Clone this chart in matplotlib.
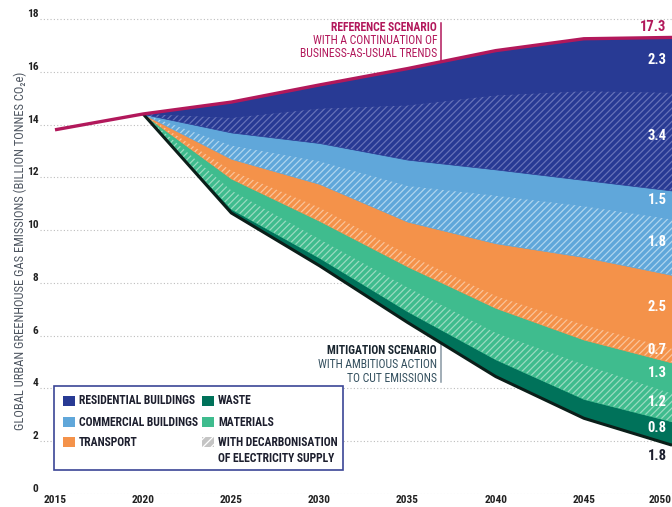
import matplotlib
matplotlib.use('Agg')
import matplotlib.pyplot as plt
from matplotlib import font_manager
from matplotlib.patches import Rectangle
import numpy as np

# the original uses a condensed face; take the narrowest one that is installed
fonts = font_manager.fontManager.ttflist
names = {f.name for f in fonts}
dv_cond = any('DejaVuSansCondensed' in f.fname for f in fonts)
if 'Roboto Condensed' in names:
    FONT, STRETCH, K = 'Roboto Condensed', 'normal', 1.0
elif 'Liberation Sans Narrow' in names:
    FONT, STRETCH, K = 'Liberation Sans Narrow', 'normal', 1.0
elif dv_cond:
    FONT, STRETCH, K = 'DejaVu Sans', 'condensed', 0.9
else:
    FONT, STRETCH, K = 'DejaVu Sans', 'normal', 0.82
plt.rcParams['font.family'] = [FONT, 'DejaVu Sans']
plt.rcParams['font.stretch'] = STRETCH
plt.rcParams['hatch.linewidth'] = 0.9

# ---- data (billion tonnes CO2e) ----
ref_years = [2015, 2020, 2025, 2030, 2035, 2040, 2045, 2050]
ref_total = [13.8, 14.4, 14.85, 15.5, 16.12, 16.8, 17.25, 17.3]

years = [2020, 2025, 2030, 2035, 2040, 2045, 2050]
mitigation = [14.4, 10.65, 8.65, 6.5, 4.45, 2.87, 1.85]

# abatement per sector, stacked from the mitigation line upwards
waste         = [0, 0.15, 0.30, 0.42, 0.65, 0.73, 0.90]
materials_e   = [0, 0.70, 0.70, 0.90, 1.00, 1.30, 1.05]
materials     = [0, 0.45, 0.70, 0.80, 0.95, 0.95, 1.18]
transport_e   = [0, 0.30, 0.50, 0.45, 0.45, 0.55, 0.52]
transport     = [0, 0.45, 0.90, 1.25, 2.00, 2.58, 2.80]
commercial_e  = [0, 0.50, 0.85, 1.35, 1.80, 1.92, 2.10]
commercial    = [0, 0.50, 0.70, 1.00, 1.00, 1.00, 1.10]
residential_e = [0, 0.55, 1.30, 2.05, 2.80, 3.36, 3.70]
residential   = [0, 0.60, 0.90, 1.40, 1.70, 1.99, 2.10]

end_labels = ['0.8', '1.2', '1.3', '0.7', '2.5', '1.8', '1.5', '3.4', '2.3']
total_label = '17.3'
mitigation_label = '1.8'

xtick_years = [2015, 2020, 2025, 2030, 2035, 2040, 2045, 2050]
ytick_vals = list(range(0, 19, 2))

# colours: (values, base, stripe or None)
layers = [
    (waste, '#00725A', None),
    (materials_e, '#3FBC8E', '#9ADBC1'),
    (materials, '#3FBC8E', None),
    (transport_e, '#F4924A', '#FAC49A'),
    (transport, '#F4924A', None),
    (commercial_e, '#60A7DA', '#AFD5EF'),
    (commercial, '#60A7DA', None),
    (residential_e, '#283A94', '#6672B8'),
    (residential, '#283A94', None),
]

CRIMSON = '#B2185B'
DARK = '#1d1f2e'
fs_note = 8.4 * K

fig = plt.figure(figsize=(6.72, 5.07), dpi=100)
ax = fig.add_axes([40 / 672, 13 / 507, 632 / 672, 485.6 / 507])
ax.set_xlim(2014.15, 2050)
ax.set_ylim(0, 18.4)

yrs = np.array(years, dtype=float)
base = np.array(mitigation, dtype=float)
centers = []
for vals, col, stripe in layers:
    top = base + np.array(vals)
    ax.fill_between(yrs, base, top, facecolor=col, edgecolor=col, lw=0.5, zorder=2)
    if stripe:
        ax.fill_between(yrs, base, top, facecolor='none', edgecolor=stripe,
                        hatch='/////', lw=0, zorder=2.1)
    centers.append((base[-1] + top[-1]) / 2)
    base = top

ax.plot(years, mitigation, color='#0B1E19', lw=2.2, zorder=4, solid_capstyle='butt')
ax.plot(ref_years, ref_total, color=CRIMSON, lw=2.4, zorder=5, solid_capstyle='butt')

# value labels at the right edge
for c, t in zip(centers, end_labels):
    ax.text(2049.7, c + 0.2, t, color='white', fontsize=10.5 * K, fontweight='bold',
            ha='right', va='center', zorder=6)
ax.text(2049.7, ref_total[-1] + 0.4, total_label, color=CRIMSON, fontsize=10.5 * K,
        fontweight='bold', ha='right', va='center', zorder=6)
ax.text(2049.7, mitigation[-1] - 0.42, mitigation_label, color=DARK, fontsize=10.5 * K,
        fontweight='bold', ha='right', va='center', zorder=6)

# scenario notes
xn = 2036.67
xl = 2036.9
ref_at = np.interp(xl, ref_years, ref_total)
ax.plot([xl, xl], [ref_at, 17.85], color=CRIMSON, lw=1.1, zorder=5)
ax.text(xn, 17.66, 'REFERENCE SCENARIO', color=CRIMSON, fontsize=fs_note,
        fontweight='bold', ha='right', va='center')
ax.text(xn, 17.17, 'WITH A CONTINUATION OF', color=CRIMSON, fontsize=fs_note,
        ha='right', va='center')
ax.text(xn, 16.68, 'BUSINESS-AS-USUAL TRENDS', color=CRIMSON, fontsize=fs_note,
        ha='right', va='center')

mit_at = np.interp(xl, years, mitigation)
ax.plot([xl, xl], [4.25, mit_at], color='#8797a3', lw=1.1, zorder=3)
ax.text(xn, 5.43, 'MITIGATION SCENARIO', color='#1a2630', fontsize=fs_note,
        fontweight='bold', ha='right', va='center')
ax.text(xn, 4.90, 'WITH AMBITIOUS ACTION', color='#34505f', fontsize=fs_note,
        ha='right', va='center')
ax.text(xn, 4.38, 'TO CUT EMISSIONS', color='#34505f', fontsize=fs_note,
        ha='right', va='center')

# axes styling
for s in ax.spines.values():
    s.set_visible(False)
ax.set_xticks(xtick_years)
ax.set_xticklabels([str(y) for y in xtick_years])
ax.set_yticks(ytick_vals)
ax.set_yticklabels([str(v) for v in ytick_vals])
ax.tick_params(length=0, labelsize=8.2 * K, labelcolor='#222222', pad=1.0)
for lab in ax.get_xticklabels() + ax.get_yticklabels():
    lab.set_fontweight('bold')
for lab in ax.get_yticklabels():
    lab.set_va('bottom')
ax.get_xticklabels()[-1].set_ha('right')
ax.yaxis.grid(True, linestyle=(0, (1, 2)), color='#bdbdbd', lw=0.8)
ax.set_axisbelow(True)
ax.patch.set_alpha(0)

fig.text(20 / 672, 0.505, 'GLOBAL URBAN GREENHOUSE GAS EMISSIONS (BILLION TONNES CO\u2082e)',
         rotation=90, ha='center', va='center', fontsize=9.0 * K, color='#4d5560')

# legend box, laid out in pixel coordinates
lg = fig.add_axes([0, 0, 1, 1], facecolor='none')
lg.set_xlim(0, 672)
lg.set_ylim(507, 0)
lg.axis('off')
lg.add_patch(Rectangle((54, 386), 289, 84, facecolor='white', edgecolor='#3b4596', lw=1.2))
legend_items = [
    (63, 401, '#283A94', None, 'RESIDENTIAL BUILDINGS'),
    (63, 422, '#60A7DA', None, 'COMMERCIAL BUILDINGS'),
    (63, 442, '#F4924A', None, 'TRANSPORT'),
    (202, 401, '#00725A', None, 'WASTE'),
    (202, 422, '#3FBC8E', None, 'MATERIALS'),
    (202, 442, '#c4c4c4', 'white', 'WITH DECARBONISATION\nOF ELECTRICITY SUPPLY'),
]
for x, y, col, stripe, txt in legend_items:
    if stripe:
        lg.add_patch(Rectangle((x, y - 5), 12, 10, facecolor=col, edgecolor=stripe,
                               hatch='////', lw=0))
    else:
        lg.add_patch(Rectangle((x, y - 5), 12, 10, facecolor=col, lw=0))
    lg.text(x + 16, y - 6.5, txt, color=DARK, fontsize=8.4 * K, fontweight='bold',
            ha='left', va='top', linespacing=1.4)

fig.savefig('out.png', dpi=100)
